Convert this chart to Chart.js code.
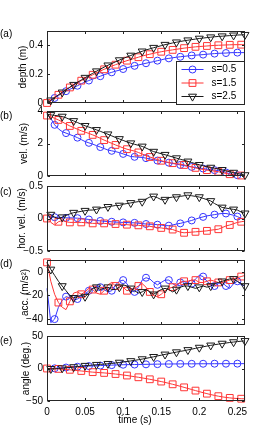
<!DOCTYPE html>
<html><head><meta charset="utf-8">
<script src="https://cdn.jsdelivr.net/npm/chart.js@4.4.0/dist/chart.umd.min.js"></script>
<style>
html,body{margin:0;padding:0;background:#fff;}
#wrap{position:relative;width:269px;height:433px;overflow:hidden;font-family:"Liberation Sans",Arial,sans-serif;}
#wrap canvas{position:absolute;left:0;}
.lbl{position:absolute;font-size:10px;line-height:12px;color:#000;white-space:nowrap;}
</style></head><body>
<div id="wrap">
<canvas id="cA"></canvas><canvas id="cB"></canvas><canvas id="cC"></canvas><canvas id="cD"></canvas><canvas id="cE"></canvas>
<div class="lbl" style="left:0;top:28px">(a)</div>
<div class="lbl" style="left:0;top:110px">(b)</div>
<div class="lbl" style="left:0;top:186px">(c)</div>
<div class="lbl" style="left:0;top:258px">(d)</div>
<div class="lbl" style="left:0;top:335px">(e)</div>
<div class="lbl" style="left:135px;top:414px;transform:translateX(-50%)">time (s)</div>
</div>
<script>
// ---------- data ----------
const time = [0,0.005,0.01,0.015,0.02,0.025,0.03,0.035,0.04,0.045,
0.05,0.055,0.06,0.065,0.07,0.075,0.08,0.085,0.09,0.095,
0.1,0.105,0.11,0.115,0.12,0.125,0.13,0.135,0.14,0.145,
0.15,0.155,0.16,0.165,0.17,0.175,0.18,0.185,0.19,0.195,
0.2,0.205,0.21,0.215,0.22,0.225,0.23,0.235,0.24,0.245,
0.25,0.255,0.26];
const seriesNames = ['s=0.5','s=1.5','s=2.5'];

const depth05 = [0,0.017,0.035,0.052,0.068,0.082,0.095,0.107,0.12,0.133,
0.146,0.156,0.166,0.176,0.186,0.196,0.205,0.213,0.221,0.228,
0.236,0.244,0.252,0.258,0.264,0.27,0.276,0.282,0.287,0.294,
0.3,0.306,0.31,0.314,0.318,0.321,0.324,0.327,0.33,0.332,
0.334,0.336,0.339,0.341,0.343,0.345,0.346,0.347,0.349,0.35,
0.35,0.35,0.35];
const depth15 = [0,0.019,0.038,0.057,0.075,0.092,0.108,0.124,0.14,0.155,
0.169,0.183,0.196,0.209,0.222,0.234,0.245,0.256,0.266,0.276,
0.285,0.294,0.302,0.31,0.318,0.326,0.333,0.339,0.345,0.351,
0.356,0.361,0.365,0.369,0.373,0.377,0.381,0.384,0.387,0.39,
0.392,0.394,0.396,0.398,0.4,0.401,0.402,0.403,0.404,0.405,
0.405,0.405,0.405];
const depth25 = [0,0.019,0.038,0.056,0.074,0.092,0.11,0.127,0.144,0.16,
0.176,0.191,0.206,0.221,0.235,0.249,0.262,0.274,0.286,0.298,
0.309,0.32,0.33,0.34,0.35,0.359,0.368,0.376,0.384,0.391,
0.398,0.405,0.411,0.417,0.422,0.427,0.432,0.436,0.44,0.444,
0.448,0.451,0.454,0.457,0.46,0.462,0.464,0.466,0.468,0.47,
0.472,0.473,0.474];

const vel05 = [3.8,3.55,3.15,2.9,2.73,2.64,2.55,2.46,2.36,2.24,
2.12,2.04,1.96,1.87,1.78,1.69,1.6,1.55,1.5,1.44,
1.36,1.28,1.2,1.18,1.16,1.14,1.1,1.05,1.0,0.95,
0.91,0.86,0.82,0.77,0.73,0.68,0.64,0.59,0.56,0.52,
0.49,0.46,0.42,0.39,0.36,0.33,0.29,0.22,0.14,0.08,
0.05,0.03,0.02];
const vel15 = [3.72,3.65,3.55,3.45,3.33,3.2,3.08,2.98,2.88,2.78,
2.7,2.62,2.53,2.43,2.32,2.21,2.11,2.01,1.91,1.82,
1.73,1.65,1.59,1.53,1.45,1.35,1.26,1.17,1.09,1.01,
0.94,0.88,0.83,0.79,0.76,0.73,0.68,0.62,0.56,0.5,
0.45,0.4,0.36,0.33,0.3,0.26,0.21,0.16,0.11,0.07,
0.04,0.03,0.02];
const vel25 = [3.8,3.76,3.73,3.7,3.66,3.58,3.48,3.39,3.29,3.19,
3.09,3.01,2.93,2.84,2.75,2.66,2.57,2.47,2.37,2.28,
2.19,2.1,2.02,1.95,1.89,1.82,1.72,1.61,1.5,1.44,
1.37,1.31,1.24,1.17,1.1,1.03,0.97,0.9,0.83,0.76,
0.69,0.63,0.57,0.52,0.48,0.43,0.38,0.32,0.26,0.21,
0.16,0.1,0.06];

const hvel05 = [0.03,0.02,0.02,0.02,0.015,0.01,0.01,0.008,0.005,0,
-0.008,-0.015,-0.022,-0.03,-0.037,-0.042,-0.047,-0.05,-0.055,-0.058,
-0.06,-0.063,-0.065,-0.067,-0.073,-0.078,-0.085,-0.088,-0.09,-0.095,
-0.1,-0.11,-0.11,-0.1,-0.085,-0.075,-0.06,-0.045,-0.03,-0.01,
0.01,0.025,0.04,0.05,0.06,0.07,0.077,0.077,0.065,0.05,
0.03,0,-0.02];
const hvel15 = [0,-0.06,-0.1,-0.05,-0.03,-0.05,-0.06,-0.06,-0.06,-0.06,
-0.065,-0.07,-0.075,-0.075,-0.072,-0.075,-0.08,-0.085,-0.085,-0.085,
-0.09,-0.095,-0.1,-0.1,-0.105,-0.11,-0.115,-0.12,-0.13,-0.14,
-0.145,-0.155,-0.162,-0.17,-0.19,-0.21,-0.22,-0.215,-0.21,-0.205,
-0.2,-0.195,-0.19,-0.18,-0.172,-0.165,-0.14,-0.115,-0.1,-0.08,
-0.06,-0.05,-0.04];
const hvel25 = [0.08,0.06,0.02,0,0.02,0.05,0.07,0.09,0.1,0.11,
0.12,0.13,0.13,0.14,0.16,0.17,0.18,0.19,0.2,0.2,
0.22,0.23,0.24,0.25,0.26,0.26,0.3,0.33,0.34,0.32,
0.29,0.29,0.32,0.33,0.33,0.34,0.35,0.36,0.35,0.34,
0.33,0.31,0.29,0.27,0.23,0.2,0.17,0.16,0.15,0.14,
0.13,0.1,0.08];

const acc05 = [-14,-43,-40,-30,-24,-21,-22,-24,-23,-21,
-19,-16,-14,-12,-13,-15,-17,-16,-11,-8,
-7,-10,-16,-17,-13,-7,-5,-6,-9,-11,
-9,-7,-7,-10,-12,-9,-8,-10,-10,-6,
-3,-4,-8,-11,-12,-10,-9,-12,-14,-10,
-8,-11,-12];
const acc15 = [8,-8,-19,-26,-30,-32,-25,-18,-17,-19,
-17,-14,-15,-18,-19,-16,-11,-9,-12,-11,
-13,-16,-15,-14,-12,-10,-13,-17,-20,-21,
-19,-16,-14,-13,-11,-9,-8,-8,-7,-7,
-9,-9,-8,-7,-8,-9,-9,-8,-7,-6,
-5,-4,-3];
const acc25 = [8,2,-3,-8,-12,-16,-20,-22,-21,-20,
-21,-18,-14,-13,-15,-14,-13,-15,-15,-13,
-11,-12,-14,-16,-18,-17,-15,-17,-19,-17,
-15,-14,-15,-17,-15,-13,-12,-12,-13,-14,
-13,-12,-13,-12,-10,-9,-8,-7,-6,-6,
-8,-10,-12];

const angle05 = [0,0,0.3,0.7,1.1,1.5,1.9,2.3,2.7,3.1,
3.4,3.7,4,4.3,4.5,4.8,5,5.2,5.4,5.6,
5.8,5.9,6,6.1,6.2,6.3,6.4,6.5,6.6,6.7,
6.8,6.9,6.9,7,7,7.1,7.1,7.2,7.2,7.2,
7.3,7.3,7.3,7.3,7.4,7.4,7.4,7.4,7.5,7.5,
7.5,7.5,7.5];
const angle15 = [0,0,-0.3,-0.6,-1,-1.5,-2,-2.6,-3.2,-3.8,
-4.4,-5,-5.6,-6,-6.4,-6.8,-7.3,-7.9,-8.5,-9.2,
-10,-10.8,-11.7,-12.6,-13.5,-14.5,-15.5,-16.6,-17.7,-18.9,
-20.1,-21.4,-22.8,-24.3,-25.8,-27.4,-29,-30.7,-32.3,-34,
-35.6,-37.2,-38.7,-40.1,-41.4,-42.6,-43.6,-44.5,-45.2,-45.8,
-46.2,-46.5,-46.7];
const angle25 = [0,-0.5,-0.5,0,0.5,1,1.6,2.3,3,3.7,
4.3,4.8,5.3,5.8,6.3,6.8,7.3,7.8,8.5,9.2,
10,10.8,11.6,12.5,13.5,14.5,15.6,16.8,18,19.3,
20.5,21.7,22.9,24.1,25.2,26.3,27.4,28.6,29.8,31,
32.2,33.4,34.5,35.6,36.6,37.5,38.4,39.2,40,40.7,
41.4,42,42.5];

// ticks
const xTicks = [0,0.05,0.1,0.15,0.2,0.25];
const xTickLabels = ['0','0.05','0.1','0.15','0.2','0.25'];
const yTicksA = [0,0.2,0.4];   const yLabelsA = ['0','0.2','0.4'];
const yTicksB = [0,2,4];       const yLabelsB = ['0','2','4'];
const yTicksC = [-0.5,0,0.5];  const yLabelsC = ['\u22120.5','0','0.5'];
const yTicksD = [-40,-20,0];   const yLabelsD = ['\u221240','\u221220','0'];
const yTicksE = [-50,0,50];    const yLabelsE = ['\u221250','0','50'];

// ---------- styling / layout ----------
Chart.defaults.font.family = '"Liberation Sans", Arial, sans-serif';
Chart.defaults.font.size = 10;
Chart.defaults.color = '#000';

const styles = [
  {color:'#3535ff', pointStyle:'circle',   radius:3.5, rotation:0,   offset:2},
  {color:'#ff3535', pointStyle:'rect',     radius:4.8, rotation:0,   offset:0},
  {color:'#1a1a1a', pointStyle:'triangle', radius:4.6, rotation:180, offset:1}
];

const panels = [
  {id:'cA', series:[depth05,depth15,depth25], min:0, max:0.5, ticks:yTicksA, labels:yLabelsA, title:'depth (m)', top:31, bottom:103, tc:23, legend:true},
  {id:'cB', series:[vel05,vel15,vel25], min:0, max:4, ticks:yTicksB, labels:yLabelsB, title:'vel. (m/s)', top:111, bottom:176, tc:24},
  {id:'cC', series:[hvel05,hvel15,hvel25], min:-0.5, max:0.5, ticks:yTicksC, labels:yLabelsC, title:'hor. vel. (m/s)', top:186, bottom:251, tc:22.5},
  {id:'cD', series:[acc05,acc15,acc25], min:-45, max:10, ticks:yTicksD, labels:yLabelsD, title:'acc. (m/s\u00B2)', top:260, bottom:325, tc:25},
  {id:'cE', series:[angle05,angle15,angle25], min:-50, max:50, ticks:yTicksE, labels:yLabelsE, title:'angle (deg.)', top:336, bottom:401, tc:26, xaxis:true}
];

const framePlugin = {
  id:'frame',
  afterDraw(chart, args, opts) {
    const {ctx, chartArea:a, scales} = chart;
    ctx.save();
    ctx.strokeStyle = '#262626';
    ctx.lineWidth = 1;
    const L = Math.round(a.left)+0.5, R = Math.round(a.right)-0.5, T = Math.round(a.top)+0.5, B = Math.round(a.bottom)-0.5;
    ctx.strokeRect(L, T, R-L, B-T);
    ctx.beginPath();
    const tl = 2.5;
    xTicks.forEach(v => { const px = Math.round(scales.x.getPixelForValue(v))+0.5; ctx.moveTo(px,B); ctx.lineTo(px,B-tl); ctx.moveTo(px,T); ctx.lineTo(px,T+tl); });
    opts.yTicks.forEach(v => { const py = Math.round(scales.y.getPixelForValue(v))+0.5; ctx.moveTo(L,py); ctx.lineTo(L+tl,py); ctx.moveTo(R,py); ctx.lineTo(R-tl,py); });
    ctx.stroke();
    ctx.restore();
  }
};

function drawMarker(ctx, st, x, y) {
  const r = st.radius;
  ctx.beginPath();
  if (st.pointStyle === 'circle') {
    ctx.arc(x, y, r, 0, Math.PI*2);
  } else if (st.pointStyle === 'rect') {
    const s = Math.SQRT1_2 * r;
    ctx.rect(x-s, y-s, 2*s, 2*s);
  } else {
    ctx.moveTo(x, y + r);
    ctx.lineTo(x - 0.866*r, y - 0.5*r);
    ctx.lineTo(x + 0.866*r, y - 0.5*r);
    ctx.closePath();
  }
  ctx.stroke();
}

const legendPlugin = {
  id:'legendBox',
  afterDraw(chart, args, opts) {
    if (!opts.show) return;
    const {ctx, chartArea:a} = chart;
    const x1 = Math.round(a.right)-0.5, x0 = x1 - 68;
    const y1 = Math.round(a.bottom)+1.5, y0 = y1 - 43;
    ctx.save();
    ctx.fillStyle = '#fff';
    ctx.fillRect(x0, y0, x1-x0, y1-y0);
    ctx.strokeStyle = '#262626';
    ctx.lineWidth = 1;
    ctx.strokeRect(x0, y0, x1-x0, y1-y0);
    const rows = [8, 21.5, 35];
    ctx.font = '10px "Liberation Sans", Arial, sans-serif';
    ctx.textBaseline = 'middle';
    ctx.textAlign = 'left';
    seriesNames.forEach((name, k) => {
      const st = styles[k];
      const y = y0 + rows[k];
      ctx.strokeStyle = st.color;
      ctx.lineWidth = 1;
      ctx.beginPath(); ctx.moveTo(x0+5, y); ctx.lineTo(x0+27, y); ctx.stroke();
      drawMarker(ctx, st, x0+16, y);
      ctx.fillStyle = '#000';
      ctx.fillText(name, x0+35, y);
    });
    ctx.restore();
  }
};

panels.forEach(p => {
  const cv = document.getElementById(p.id);
  const y0 = p.top - 10;
  const h = p.xaxis ? (433 - y0) : (p.bottom + 12 - y0);
  cv.width = 269; cv.height = h;
  cv.style.width = '269px'; cv.style.height = h + 'px';
  cv.style.top = y0 + 'px';
  const padBottom = p.xaxis ? (h - 10 - (p.bottom - p.top) - 20) : 12;
  const datasets = p.series.map((vals, k) => {
    const st = styles[k];
    return {
      label: seriesNames[k],
      data: time.map((t, i) => ({x: t, y: vals[i]})),
      borderColor: st.color,
      backgroundColor: 'rgba(0,0,0,0)',
      borderWidth: 1,
      pointStyle: st.pointStyle,
      rotation: st.rotation,
      pointRotation: st.rotation,
      pointRadius: ctx => (ctx.dataIndex % 3 === st.offset ? st.radius : 0),
      pointHoverRadius: 0,
      pointBorderWidth: 1,
      pointBorderColor: st.color,
      pointBackgroundColor: 'rgba(0,0,0,0)',
      tension: 0,
      fill: false,
      clip: false,
      order: 2 - k
    };
  });
  new Chart(cv, {
    type: 'line',
    data: {datasets},
    plugins: [framePlugin, legendPlugin],
    options: {
      responsive: false,
      animation: false,
      devicePixelRatio: 1,
      events: [],
      layout: {padding: {top: 10, bottom: padBottom, left: 0, right: 24}},
      plugins: {
        legend: {display: false},
        tooltip: {enabled: false},
        frame: {yTicks: p.ticks},
        legendBox: {show: !!p.legend}
      },
      scales: {
        x: {
          type: 'linear', min: 0, max: 0.26,
          display: !!p.xaxis,
          grid: {display: false, drawTicks: false},
          border: {display: false},
          afterBuildTicks: s => { s.ticks = xTicks.map(v => ({value: v})); },
          ticks: {padding: 5, maxRotation: 0, autoSkip: false, callback: (v, i) => xTickLabels[i]},
          afterFit: s => { s.height = p.xaxis ? 20 : 0; }
        },
        y: {
          type: 'linear', min: p.min, max: p.max,
          grid: {display: false, drawTicks: false},
          border: {display: false},
          afterBuildTicks: s => { s.ticks = p.ticks.map(v => ({value: v})); },
          ticks: {padding: 4, autoSkip: false, callback: (v, i) => p.labels[i]},
          title: {display: true, text: p.title, padding: {top: p.tc - 6, bottom: 0}, font: {size: 10}},
          afterFit: s => { s.width = 47; }
        }
      }
    }
  });
});
</script>
</body></html>
